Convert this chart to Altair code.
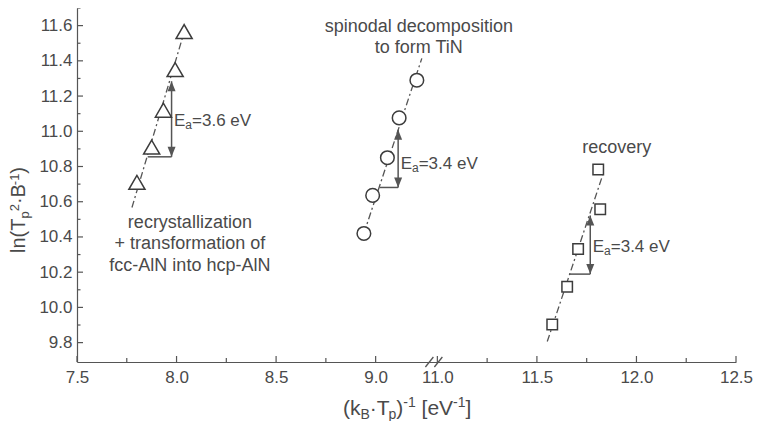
import altair as alt
import pandas as pd

# ---------------- data ----------------
tri_x = [7.801, 7.875, 7.934, 7.993, 8.038]
tri_y = [10.71, 10.91, 11.12, 11.35, 11.566]
cir_x = [8.941, 8.985, 9.059, 9.118, 9.207]
cir_y = [10.42, 10.636, 10.85, 11.076, 11.29]
sq_x = [11.577, 11.652, 11.707, 11.818, 11.808]
sq_y = [9.903, 10.117, 10.332, 10.557, 10.783]

# dash-dot fit lines (end points)
fit_series = ["tri", "tri", "cir", "cir", "sq", "sq"]
fit_x = [7.776, 8.04, 8.941, 9.232, 11.552, 11.83]
fit_y = [10.567, 11.57, 10.42, 11.414, 9.806, 10.75]

# activation-energy arrows
arr_x = [7.975, 9.113, 11.768]
arr_lo = [10.855, 10.681, 10.189]
arr_hi = [11.284, 11.009, 10.522]
arr_base_x = [7.855, 9.020, 11.662]
ea_text = ["=3.6 eV", "=3.4 eV", "=3.4 eV"]
ea_y = [11.058, 10.817, 10.343]

# annotations (one row per text line, alphabetic baseline)
ann_text = ["recrystallization", "+ transformation of", "fcc-AlN into hcp-AlN",
            "spinodal decomposition", "to form TiN", "recovery"]
ann_x = [8.067, 8.067, 8.067, 9.217, 9.217, 11.901]
ann_y = [10.453, 10.329, 10.208, 11.566, 11.444, 10.874]

# axis ticks
x_major = [7.5, 8.0, 8.5, 9.0, 11.0, 11.5, 12.0, 12.5]
x_minor = [7.75, 8.25, 8.75, 11.25, 11.75, 12.25]
y_major = [9.8, 10.0, 10.2, 10.4, 10.6, 10.8, 11.0, 11.2, 11.4, 11.6]
y_minor = [9.9, 10.1, 10.3, 10.5, 10.7, 10.9, 11.1, 11.3, 11.5, 11.7]
break_pos = [9.27, 9.315]  # positions of the "//" marks on the broken axis

# ---------------- styling / layout ----------------
OFFSET = 1.69          # width of the cut-out part of the x axis (9.31 .. 11.0)
FONT = "Liberation Sans"
TXT = "#4a4a4a"
LN = "#555555"
MK = "#3c3c3c"
W, H = 659, 354
XD = [7.5, 12.5 - OFFSET]
YD = [9.69, 11.7]


def brk(v):
    return round(v - OFFSET, 4) if v > 10 else v


xs = alt.Scale(domain=XD, nice=False, zero=False)
ys = alt.Scale(domain=YD, nice=False, zero=False)

x_axis = alt.Axis(
    values=[brk(v) for v in x_major],
    labelExpr=f"datum.value > 9.2 ? format(datum.value + {OFFSET}, '.1f') : format(datum.value, '.1f')",
    ticks=False, tickSize=0, grid=False, title=None,
    labelFontSize=17, labelFont=FONT, labelColor=TXT, labelPadding=7,
    labelFlush=False, labelOverlap=False,
    domainColor=LN, domainWidth=1.2,
)
y_axis = alt.Axis(
    values=y_major, format=".1f",
    ticks=False, tickSize=0, grid=False, title=None,
    labelFontSize=17, labelFont=FONT, labelColor=TXT, labelPadding=5,
    labelFlush=False, labelOverlap=False,
    domainColor=LN, domainWidth=1.2,
)


def X(f):
    return alt.X(f, type="quantitative", scale=xs, axis=x_axis)


def Y(f):
    return alt.Y(f, type="quantitative", scale=ys, axis=y_axis)


# ---------------- frames ----------------
pts = pd.DataFrame({
    "series": ["tri"] * len(tri_x) + ["cir"] * len(cir_x) + ["sq"] * len(sq_x),
    "x": tri_x + cir_x + sq_x,
    "y": tri_y + cir_y + sq_y,
})
pts["xp"] = pts["x"].map(brk)

fit = pd.DataFrame({"series": fit_series, "x": fit_x, "y": fit_y})
fit["xp"] = fit["x"].map(brk)

arr = pd.DataFrame({
    "ax": [brk(v) for v in arr_x], "bx": [brk(v) for v in arr_base_x],
    "lo": arr_lo, "hi": arr_hi, "ly": ea_y, "t": ea_text,
})

ann = pd.DataFrame({"t": ann_text, "x": [brk(v) for v in ann_x], "y": ann_y})

xt_major = pd.DataFrame({"v": [brk(v) for v in x_major]})
xt_minor = pd.DataFrame({"v": [brk(v) for v in x_minor]})
yt_major = pd.DataFrame({"v": y_major})
yt_minor = pd.DataFrame({"v": [v for v in y_minor if v <= YD[1]]})

dxs, dys = 4 / (W / (XD[1] - XD[0])), 5 / (H / (YD[1] - YD[0]))
brk_df = pd.DataFrame({
    "x1": [p - dxs for p in break_pos], "x2": [p + dxs for p in break_pos],
    "y1": [YD[0] - dys] * 2, "y2": [YD[0] + dys] * 2,
})

# ---------------- rich-text titles (sub/superscripts) ----------------
WID = {'(': 333, ')': 333, 'k': 500, 'B': 667, '·': 278, 'T': 611, 'p': 556,
       '-': 333, '1': 556, ' ': 278, '[': 278, ']': 278, 'e': 556, 'V': 667,
       'l': 222, 'n': 556, '2': 556, 'E': 667, 'a': 556}


def pieces(parts, kinds, lead, fm, fsub, shift):
    rows, off = [], 0.0
    for t, k, ld in zip(parts, kinds, lead):
        fs = fm if k == "n" else fsub
        off += ld * WID[' '] * fs / 1000
        rows.append({"t": t, "off": off, "shift": shift[k], "fs": fs})
        off += sum(WID[c] for c in t) * fs / 1000
    return pd.DataFrame(rows)


xtitle = pieces(["(k", "B", "·T", "p", ")", "-1", "[eV", "-1", "]"],
                ["n", "b", "n", "b", "n", "p", "n", "p", "n"],
                [0, 0, 0, 0, 0, 0, 1, 0, 0], 21, 14, {"n": 0, "b": 4, "p": -8})
xtitle["px"] = 266 + xtitle["off"]
xtitle["py"] = 407 + xtitle["shift"]

ytitle = pieces(["ln(T", "p", "2", "·B", "-1", ")"],
                ["n", "b", "p", "n", "p", "n"],
                [0, 0, 0, 0, 0, 0], 20, 13, {"n": 0, "b": 4, "p": -6})
ytitle["px"] = -52 + ytitle["shift"]
ytitle["py"] = 245 - ytitle["off"]

# ---------------- layers ----------------
lines = alt.Chart(fit).mark_line(color=LN, strokeWidth=1.3, strokeDash=[7, 3, 2, 3]).encode(
    x=X("xp"), y=Y("y"), detail="series:N")

shaft = alt.Chart(arr).mark_rule(color=LN, strokeWidth=1.5).encode(
    x=X("ax"), y=Y("lo"), y2="hi")
base = alt.Chart(arr).mark_rule(color=LN, strokeWidth=1.5).encode(
    x=X("bx"), x2="ax", y=Y("lo"))
head_up = alt.Chart(arr).mark_point(shape="M0,0L-0.4,1L0.4,1Z", filled=True, color=LN,
                                    size=400, opacity=1).encode(x=X("ax"), y=Y("hi"))
head_dn = alt.Chart(arr).mark_point(shape="M0,0L-0.4,-1L0.4,-1Z", filled=True, color=LN,
                                    size=400, opacity=1).encode(x=X("ax"), y=Y("lo"))

markers = alt.Chart(pts).mark_point(filled=True, fill="white", stroke=MK, strokeWidth=1.5,
                                    opacity=1).encode(
    x=X("xp"), y=Y("y"),
    shape=alt.Shape("series:N", scale=alt.Scale(domain=["tri", "cir", "sq"],
                                                range=["triangle-up", "circle", "square"]),
                    legend=None),
    size=alt.Size("series:N", scale=alt.Scale(domain=["tri", "cir", "sq"], range=[260, 110, 100]),
                  legend=None),
)

e1 = alt.Chart(arr).mark_text(text="E", align="left", baseline="middle", dx=2.5,
                              fontSize=17, font=FONT, color=TXT).encode(x=X("ax"), y=Y("ly"))
e2 = alt.Chart(arr).mark_text(text="a", align="left", baseline="middle", dx=2.5 + 11.3, dy=4,
                              fontSize=12, font=FONT, color=TXT).encode(x=X("ax"), y=Y("ly"))
e3 = alt.Chart(arr).mark_text(align="left", baseline="middle", dx=2.5 + 11.3 + 6.7,
                              fontSize=17, font=FONT, color=TXT).encode(
    x=X("ax"), y=Y("ly"), text="t:N")

notes = alt.Chart(ann).mark_text(align="center", baseline="alphabetic", fontSize=18,
                                 font=FONT, color=TXT).encode(x=X("x"), y=Y("y"), text="t:N")

xtk1 = alt.Chart(xt_major).mark_rule(color=LN, strokeWidth=1.2).encode(
    x=X("v"), y=alt.value(H), y2=alt.value(H - 6))
xtk2 = alt.Chart(xt_minor).mark_rule(color=LN, strokeWidth=1.2).encode(
    x=X("v"), y=alt.value(H), y2=alt.value(H - 4))
ytk1 = alt.Chart(yt_major).mark_rule(color=LN, strokeWidth=1.2).encode(
    y=Y("v"), x=alt.value(0), x2=alt.value(6))
ytk2 = alt.Chart(yt_minor).mark_rule(color=LN, strokeWidth=1.2).encode(
    y=Y("v"), x=alt.value(0), x2=alt.value(3.5))

breaks = alt.Chart(brk_df).mark_rule(color=LN, strokeWidth=1.3).encode(
    x=X("x1"), x2="x2", y=Y("y1"), y2="y2")

xt = alt.Chart(xtitle).mark_text(align="left", baseline="alphabetic", font=FONT, color=TXT).encode(
    x=alt.X("px:Q", scale=None), y=alt.Y("py:Q", scale=None),
    size=alt.Size("fs:Q", scale=None), text="t:N")
yt = alt.Chart(ytitle).mark_text(align="left", baseline="alphabetic", angle=270, font=FONT,
                                 color=TXT).encode(
    x=alt.X("px:Q", scale=None), y=alt.Y("py:Q", scale=None),
    size=alt.Size("fs:Q", scale=None), text="t:N")

chart = alt.layer(
    lines, shaft, base, head_up, head_dn, markers, e1, e2, e3, notes,
    xtk1, xtk2, ytk1, ytk2, breaks, xt, yt,
).properties(
    width=W, height=H,
    autosize=alt.AutoSizeParams(type="none"),
    padding={"left": 69, "top": 0, "right": 17, "bottom": 59},
    background="white",
).configure_view(stroke=None)

chart.save("out.html", embed_options={"renderer": "svg", "actions": False})
